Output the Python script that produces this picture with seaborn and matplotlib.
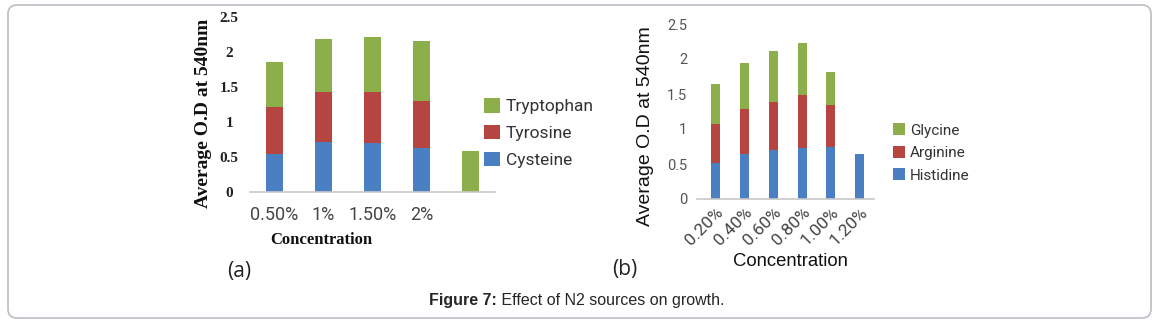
import matplotlib
matplotlib.use("Agg")
import matplotlib.pyplot as plt
from matplotlib.patches import FancyBboxPatch
from matplotlib.transforms import IdentityTransform
import numpy as np
import pandas as pd
import seaborn as sns

# (a) amino acids as nitrogen source
conc_a = ["0.50%", "1%", "1.50%", "2%", ""]
cysteine = [0.55, 0.71, 0.70, 0.63, 0.0]
tyrosine = [0.66, 0.72, 0.73, 0.67, 0.0]
tryptophan = [0.65, 0.75, 0.79, 0.85, 0.58]

# (b) amino acids as nitrogen source
conc_b = ["0.20%", "0.40%", "0.60%", "0.80%", "1.00%", "1.20%"]
histidine = [0.52, 0.65, 0.70, 0.73, 0.75, 0.65]
arginine = [0.55, 0.63, 0.68, 0.75, 0.59, 0.0]
glycine = [0.58, 0.66, 0.74, 0.75, 0.48, 0.0]

BLUE = "#4B7FC4"
RED = "#B64440"
GREEN = "#8CAF4B"

sns.set_style("white")
plt.rcParams["font.family"] = ["DejaVu Sans"]

W, H = 1157, 323
fig = plt.figure(figsize=(W / 100, H / 100), dpi=100)


def px_axes(x0, x1, ybase, ytop):
    return fig.add_axes([x0 / W, (H - ybase) / H, (x1 - x0) / W, (ybase - ytop) / H])


def stacked(ax, cats, series, width):
    bottom = np.zeros(len(cats))
    for name, vals, col in series:
        df = pd.DataFrame({"conc": cats, "od": vals})
        sns.barplot(data=df, x="conc", y="od", order=cats, color=col,
                    bottom=bottom.copy(), width=width, linewidth=0,
                    saturation=1, label=name, ax=ax, errorbar=None)
        bottom += np.asarray(vals)


# ---------- panel (a) ----------
ax1 = px_axes(250, 495, 192, 17)
stacked(ax1, conc_a, [("Cysteine", cysteine, BLUE),
                      ("Tyrosine", tyrosine, RED),
                      ("Tryptophan", tryptophan, GREEN)], 0.33)
ax1.set_ylim(0, 2.5)
ax1.set_xlim(-0.5, 4.5)
ax1.set_yticks([0, 0.5, 1, 1.5, 2, 2.5])
ax1.set_yticklabels(["0", "0.5", "1", "1.5", "2", "2.5"],
                    fontfamily="Liberation Serif", fontweight="bold",
                    fontsize=11, color="#222222", ha="center")
ax1.tick_params(axis="y", length=0, pad=15)
ax1.tick_params(axis="x", length=0, pad=10, labelsize=13, labelcolor="#454545")
for lab in ax1.get_xticklabels():
    lab.set_fontfamily("Roboto")
for s in ["top", "right", "left"]:
    ax1.spines[s].set_visible(False)
ax1.spines["bottom"].set_color("#C8C8C8")
ax1.spines["bottom"].set_linewidth(1.2)
ax1.set_ylabel("Average O.D at 540nm", fontfamily="Liberation Serif",
               fontweight="bold", fontsize=14, color="#111111", va="center")
ax1.yaxis.set_label_coords((204 - 250) / 245, (192 - 113) / 175)
ax1.set_xlabel("Concentration", fontfamily="Liberation Serif",
               fontweight="bold", fontsize=12, color="#111111", va="center")
ax1.xaxis.set_label_coords((321 - 250) / 245, (192 - 240) / 175)
h, l = ax1.get_legend_handles_labels()
ax1.legend(h[::-1], l[::-1], loc="center left", frameon=False,
           bbox_to_anchor=((484 - 250) / 245, (192 - 133) / 175),
           borderpad=0, borderaxespad=0, handlelength=0.9, handleheight=0.9,
           handletextpad=0.35, labelspacing=0.6,
           prop={"family": "Roboto", "size": 12.5}, labelcolor="#333333")

# ---------- panel (b) ----------
ax2 = px_axes(697, 874, 199, 24)
stacked(ax2, conc_b, [("Histidine", histidine, BLUE),
                      ("Arginine", arginine, RED),
                      ("Glycine", glycine, GREEN)], 0.31)
ax2.set_ylim(0, 2.5)
ax2.set_xlim(-0.65, 5.5)
ax2.set_yticks([0, 0.5, 1, 1.5, 2, 2.5])
ax2.set_yticklabels(["0", "0.5", "1", "1.5", "2", "2.5"],
                    fontfamily="Roboto", fontsize=10.5, color="#555555")
ax2.tick_params(axis="y", length=0, pad=7)
ax2.tick_params(axis="x", length=0, pad=4)
for lab in ax2.get_xticklabels():
    lab.set_fontfamily("Roboto")
    lab.set_fontsize(12.5)
    lab.set_color("#444444")
    lab.set_rotation(45)
    lab.set_ha("right")
    lab.set_rotation_mode("anchor")
for s in ["top", "right", "left"]:
    ax2.spines[s].set_visible(False)
ax2.spines["bottom"].set_color("#C8C8C8")
ax2.spines["bottom"].set_linewidth(1.2)
ax2.set_ylabel("Average O.D at 540nm", fontfamily="Liberation Sans",
               fontsize=14, color="#111111", va="center")
ax2.yaxis.set_label_coords((645 - 697) / 177, (199 - 126) / 175)
ax2.set_xlabel("Concentration", fontfamily="Liberation Sans",
               fontsize=13.3, color="#111111", va="center")
ax2.xaxis.set_label_coords((790 - 697) / 177, (199 - 262) / 175)
h, l = ax2.get_legend_handles_labels()
ax2.legend(h[::-1], l[::-1], loc="center left", frameon=False,
           bbox_to_anchor=((893 - 697) / 177, (199 - 153) / 175),
           borderpad=0, borderaxespad=0, handlelength=0.8, handleheight=0.8,
           handletextpad=0.3, labelspacing=0.55,
           prop={"family": "Roboto", "size": 11}, labelcolor="#333333")

# panel tags
fig.text(239 / W, 1 - 272 / H, "(a)", fontfamily="Open Sans", fontsize=15,
         ha="center", va="center", color="#222222")
fig.text(625 / W, 1 - 269 / H, "(b)", fontfamily="Open Sans", fontsize=15,
         ha="center", va="center", color="#222222")

# caption
cap = fig.text(429 / W, 1 - 301 / H, "Figure 7:", fontfamily="Liberation Sans",
               fontweight="bold", fontsize=11.5, ha="left", va="center")
ax2.annotate(" Effect of N2 sources on growth.", xy=(1, 0.5), xycoords=cap,
             ha="left", va="center", fontfamily="Liberation Sans",
             fontsize=11.5, annotation_clip=False)

# rounded frame around the figure
frame = FancyBboxPatch((8, 5), 1143, 313, boxstyle="round,pad=0,rounding_size=9",
                       transform=IdentityTransform(), facecolor="none",
                       edgecolor="#BFC3C7", linewidth=1.3)
fig.add_artist(frame)

fig.savefig("out.png", dpi=100)
